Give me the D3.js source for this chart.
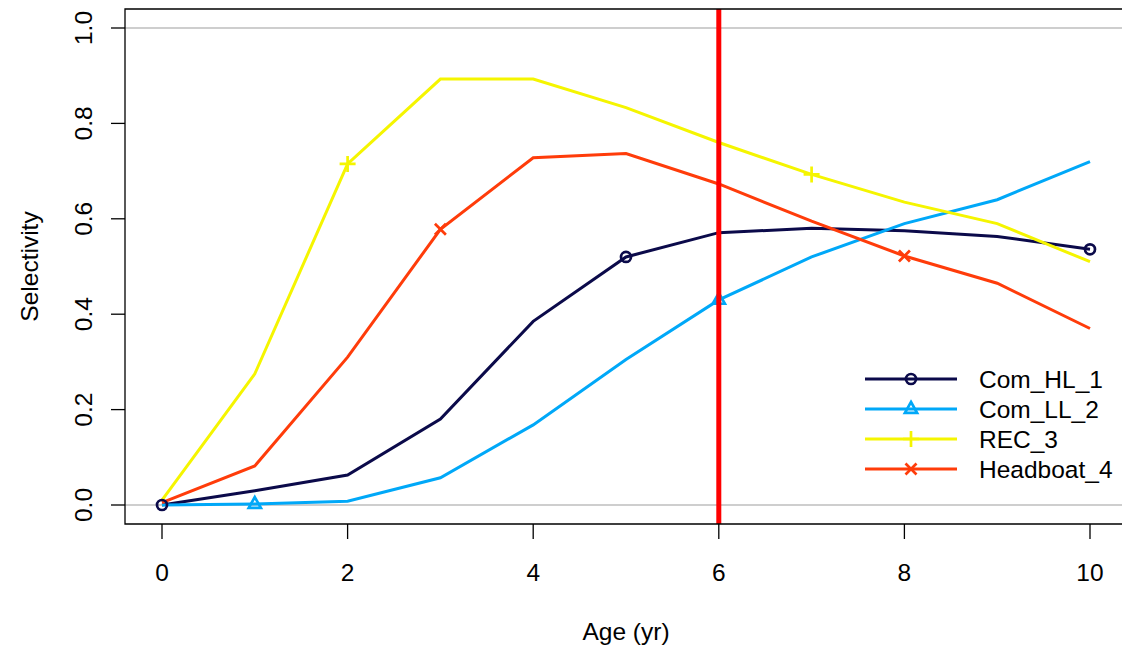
<!DOCTYPE html>
<html>
<head>
<meta charset="utf-8">
<script src="https://cdn.jsdelivr.net/npm/d3@7"></script>
<style>body{margin:0;background:#fff;} text{font-family:"Liberation Sans",Arial,sans-serif;}</style>
</head>
<body>
<div id="chart"></div>
<script>
// data
const ages = [0, 1, 2, 3, 4, 5, 6, 7, 8, 9, 10];
const comHL = [0, 0.03, 0.063, 0.18, 0.385, 0.52, 0.571, 0.58, 0.575, 0.563, 0.536];
const comLL = [0, 0.002, 0.008, 0.057, 0.168, 0.305, 0.43, 0.52, 0.59, 0.64, 0.72];
const rec = [0.01, 0.275, 0.715, 0.893, 0.893, 0.833, 0.76, 0.693, 0.635, 0.59, 0.51];
const headboat = [0.005, 0.082, 0.31, 0.578, 0.728, 0.737, 0.673, 0.595, 0.522, 0.465, 0.37];
const seriesNames = ["Com_HL_1", "Com_LL_2", "REC_3", "Headboat_4"];
const seriesColors = ["#0b0a4a", "#00a8f8", "#f5f500", "#ff3c0a"];
const seriesValues = [comHL, comLL, rec, headboat];
const xTicks = [0, 2, 4, 6, 8, 10];
const yTicks = [0, 0.2, 0.4, 0.6, 0.8, 1.0];
const refAge = 6;

const W = 1122, H = 646;
const box = { left: 125, right: 1122, top: 9, bottom: 524 };
const fs = 24.5;

const svg = d3.select("#chart").append("svg").attr("width", W).attr("height", H);

const x = d3.scaleLinear().domain([0, 10]).range([162, 1090]);
const y = d3.scaleLinear().domain([0, 1]).range([505, 28]);

// grid lines at 0 and 1
svg.selectAll(".hline").data([0, 1]).join("line")
    .attr("x1", box.left).attr("x2", box.right)
    .attr("y1", d => y(d)).attr("y2", d => y(d))
    .attr("stroke", "#bebebe").attr("stroke-width", 1.3);

// series lines
const line = d3.line().x((d, i) => x(ages[i])).y(d => y(d));
seriesValues.forEach((vals, s) => {
    svg.append("path").datum(vals)
        .attr("d", line).attr("fill", "none")
        .attr("stroke", seriesColors[s]).attr("stroke-width", 3);
});

function marker(g, s, cx, cy) {
    const c = seriesColors[s];
    if (s === 0) {
        g.append("circle").attr("cx", cx).attr("cy", cy).attr("r", 5)
            .attr("fill", "none").attr("stroke", c).attr("stroke-width", 2.7);
    } else if (s === 1) {
        const r = 7;
        g.append("path").attr("d", `M${cx},${cy - r}L${cx + r * 0.87},${cy + r * 0.55}L${cx - r * 0.87},${cy + r * 0.55}Z`)
            .attr("fill", "none").attr("stroke", c).attr("stroke-width", 2.7);
    } else if (s === 2) {
        g.append("path").attr("d", `M${cx - 8},${cy}H${cx + 8}M${cx},${cy - 8}V${cy + 8}`)
            .attr("stroke", c).attr("stroke-width", 2.7);
    } else {
        g.append("path").attr("d", `M${cx - 5.5},${cy - 5.5}L${cx + 5.5},${cy + 5.5}M${cx - 5.5},${cy + 5.5}L${cx + 5.5},${cy - 5.5}`)
            .attr("stroke", c).attr("stroke-width", 2.7);
    }
}

// markers every 5 points, offset by series index
const mg = svg.append("g");
seriesValues.forEach((vals, s) => {
    vals.forEach((v, i) => {
        if (i >= s && (i - s) % 5 === 0) marker(mg, s, x(ages[i]), y(v));
    });
});

// reference age line
svg.append("line")
    .attr("x1", x(refAge)).attr("x2", x(refAge))
    .attr("y1", box.top).attr("y2", box.bottom)
    .attr("stroke", "#ff0000").attr("stroke-width", 5);

// box
svg.append("path")
    .attr("d", `M${box.right},${box.top}H${box.left}V${box.bottom}H${box.right}`)
    .attr("fill", "none").attr("stroke", "#000").attr("stroke-width", 1.3);

// x axis ticks
svg.selectAll(".xt").data(xTicks).join("line")
    .attr("x1", d => x(d)).attr("x2", d => x(d))
    .attr("y1", box.bottom).attr("y2", box.bottom + 15)
    .attr("stroke", "#000").attr("stroke-width", 1.3);
svg.selectAll(".xl").data(xTicks).join("text")
    .attr("x", d => x(d)).attr("y", 581)
    .attr("text-anchor", "middle").attr("font-size", fs).text(d => d);

// y axis ticks
svg.selectAll(".yt").data(yTicks).join("line")
    .attr("x1", box.left - 14).attr("x2", box.left)
    .attr("y1", d => y(d)).attr("y2", d => y(d))
    .attr("stroke", "#000").attr("stroke-width", 1.3);
svg.selectAll(".yl").data(yTicks).join("text")
    .attr("transform", d => `translate(92,${y(d)}) rotate(-90)`)
    .attr("text-anchor", "middle").attr("font-size", fs).text(d => d.toFixed(1));

// axis titles
svg.append("text").attr("x", x(5)).attr("y", 640)
    .attr("text-anchor", "middle").attr("font-size", fs).text("Age (yr)");
svg.append("text").attr("transform", `translate(38,${(box.top + box.bottom) / 2}) rotate(-90)`)
    .attr("text-anchor", "middle").attr("font-size", fs).text("Selectivity");

// legend
const lg = svg.append("g");
seriesNames.forEach((n, s) => {
    const ly = 379 + s * 30;
    lg.append("line").attr("x1", 865).attr("x2", 957).attr("y1", ly).attr("y2", ly)
        .attr("stroke", seriesColors[s]).attr("stroke-width", 3);
    marker(lg, s, 911, ly);
    lg.append("text").attr("x", 979).attr("y", ly + 9).attr("font-size", fs).text(n);
});
</script>
</body>
</html>
